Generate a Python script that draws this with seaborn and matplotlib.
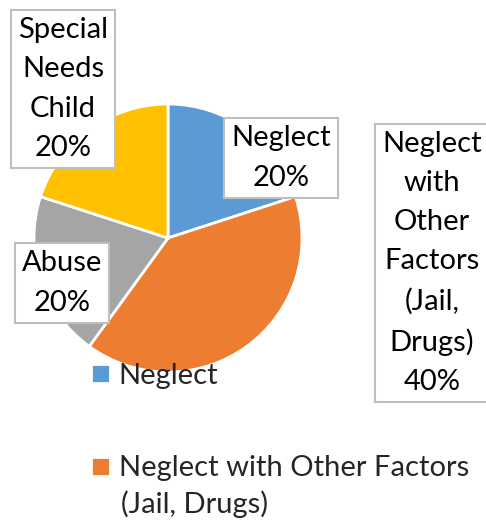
import matplotlib
matplotlib.use("Agg")
import matplotlib.pyplot as plt
import seaborn as sns

categories = ["Neglect", "Neglect with Other Factors (Jail, Drugs)", "Abuse", "Special Needs Child"]
values = [20, 40, 20, 20]
box_labels = ["Neglect", "Neglect\nwith\nOther\nFactors\n(Jail,\nDrugs)", "Abuse", "Special\nNeeds\nChild"]
# only the first two legend entries fit on the canvas in the original
legend_labels = ["Neglect", "Neglect with Other Factors"]
legend_cont = "(Jail, Drugs)"
colors = ["#5B9BD5", "#ED7D31", "#A5A5A5", "#FFC000"]

sns.set_theme(style="white")
plt.rcParams["font.family"] = ["Lato", "DejaVu Sans"]

W, H = 486, 520
fig = plt.figure(figsize=(W / 100, H / 100), dpi=100)
ax = fig.add_axes([0, 0, 1, 1])

wedges, _ = ax.pie(
    values,
    colors=colors,
    startangle=90,
    counterclock=False,
    center=(168, H - 238),
    radius=134,
    wedgeprops=dict(edgecolor="white", linewidth=2),
)
ax.set_xlim(0, W)
ax.set_ylim(0, H)
ax.set_aspect("equal")
ax.axis("off")

# data label boxes, placed where the original chart had them
label_pos = [(281, 158), (432, 263), (62, 283), (63, 89)]
total = sum(values)
for lab, v, (x, y) in zip(box_labels, values, label_pos):
    ax.text(
        x, H - y, f"{lab}\n{v / total:.0%}",
        ha="center", va="center", fontsize=21, linespacing=1.62, color="black",
        bbox=dict(boxstyle="square,pad=0.25", fc="white", ec="#BFBFBF", lw=1.5),
        zorder=5,
    )

ax.legend(
    wedges[:2], legend_labels,
    loc="upper left", bbox_to_anchor=(91 / W, 1 - 363 / H),
    frameon=False, fontsize=21, handlelength=0.65, handleheight=0.65,
    handletextpad=0.3, labelspacing=2.28, borderpad=0, borderaxespad=0,
)
ax.text(121, H - 504, legend_cont, ha="left", va="center", fontsize=21)

fig.savefig("out.png", dpi=100)
